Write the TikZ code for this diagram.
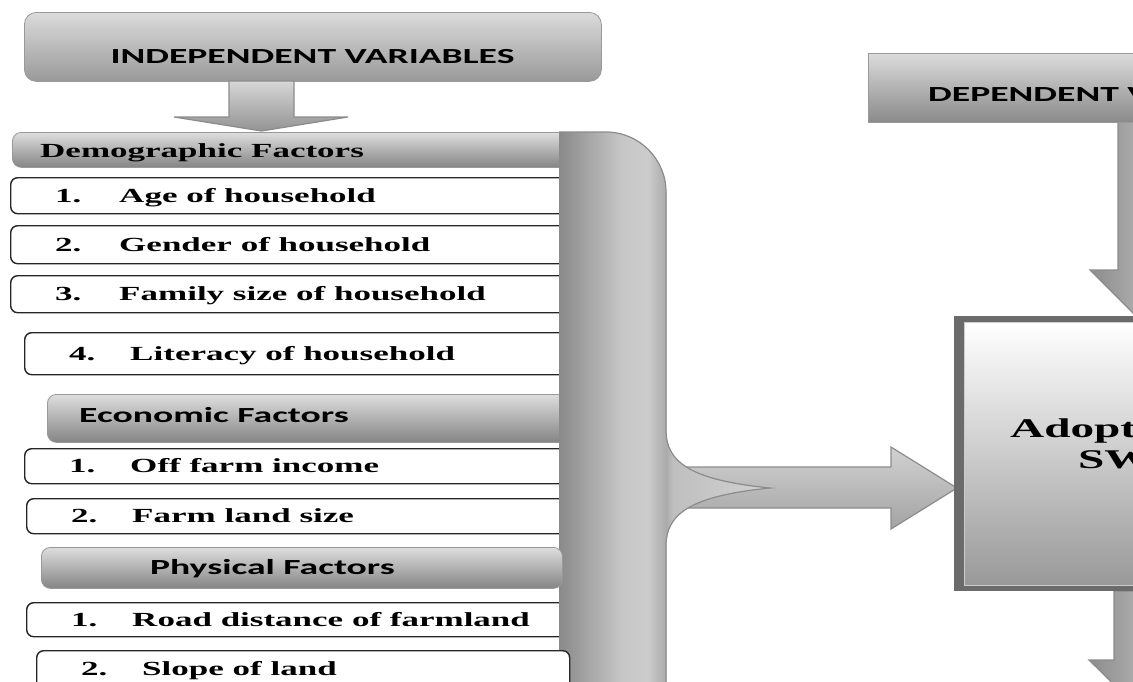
\documentclass[tikz,border=0pt]{standalone}
\usepackage{fontspec}
\usepackage{graphicx}
\setmainfont{Liberation Serif}
\newfontfamily\carlfont{Carlito}
\newcommand{\stx}[1]{\scalebox{1.75}[1]{#1}}
\newcommand{\numlab}[3]{\stx{\makebox[#1pt][l]{#2}#3}}
\pgfdeclarehorizontalshading{bandshade}{100bp}{color(0bp)=(black!46); color(25bp)=(black!46); color(40bp)=(black!22); color(46bp)=(black!20); color(50.4bp)=(black!33); color(52bp)=(black!25); color(75bp)=(black!18); color(100bp)=(black!18)}
\begin{document}
\begin{tikzpicture}[x=1pt,y=-1pt,
  sertxt/.style={inner sep=0pt,font=\fontsize{20}{23}\selectfont\bfseries},
  santxt/.style={inner sep=0pt,font=\carlfont\fontsize{21.5}{25}\selectfont\bfseries},
  bigtxt/.style={inner sep=0pt,font=\fontsize{27}{32}\selectfont\bfseries},
  lst/.style={draw=black!85,line width=1.4pt,rounded corners=7pt,fill=white,inner sep=0pt,anchor=north west},
  hdr/.style={draw=black!40,line width=0.8pt,rounded corners=9pt,top color=black!13,bottom color=black!48,inner sep=0pt,anchor=north west},
  blockarrow/.style={draw=black!45,line width=1.2pt,top color=black!16,bottom color=black!42},
  varrow/.style={draw=black!45,line width=1.2pt,left color=black!45,right color=black!14},
]
\useasboundingbox (0,0) rectangle (1133,681);
\clip (0,0) rectangle (1133,681);

% title
\node[hdr,rounded corners=12pt,minimum width=577pt,minimum height=69pt,top color=black!14,bottom color=black!40] (title) at (24,12) {};
\node[santxt,anchor=base] (titletxt) at (312.5,63) {\stx{INDEPENDENT VARIABLES}};
\path[blockarrow] (229,81) -- (294,81) -- (294,117) -- (348,117) -- (261.5,131) -- (174,117) -- (229,117) -- cycle;

% horizontal arrow to the dependent box
\path[blockarrow,top color=black!18,bottom color=black!36] (680,467) -- (891,467) -- (891,447) -- (957,488) -- (891,529) -- (891,508) -- (680,508) -- cycle;

% demographic factors
\node[hdr,minimum width=565pt,minimum height=35pt] (demo) at (12,132) {};
\node[sertxt,anchor=base west] (demotxt) at (40,157) {\stx{Demographic Factors}};
\node[lst,minimum width=580pt,minimum height=36pt] (d1) at (10,177) {};
\node[sertxt,anchor=base west] (d1t) at (55,202) {\numlab{36.6}{1.}{Age of household}};
\node[lst,minimum width=580pt,minimum height=38pt] (d2) at (10,225) {};
\node[sertxt,anchor=base west] (d2t) at (55,251) {\numlab{36.6}{2.}{Gender of household}};
\node[lst,minimum width=580pt,minimum height=37pt] (d3) at (10,275) {};
\node[sertxt,anchor=base west] (d3t) at (55,300) {\numlab{36.6}{3.}{Family size of household}};
\node[lst,minimum width=566pt,minimum height=42pt] (d4) at (24,332) {};
\node[sertxt,anchor=base west] (d4t) at (69,360) {\numlab{34.9}{4.}{Literacy of household}};

% economic factors
\node[hdr,minimum width=530pt,minimum height=48pt] (econ) at (47,394) {};
\node[santxt,anchor=base west] (econtxt) at (79,422) {\stx{Economic Factors}};
\node[lst,minimum width=566pt,minimum height=35pt] (e1) at (24,448) {};
\node[sertxt,anchor=base west] (e1t) at (69,472) {\numlab{34.9}{1.}{Off farm income}};
\node[lst,minimum width=564pt,minimum height=35pt] (e2) at (26,498) {};
\node[sertxt,anchor=base west] (e2t) at (71,522) {\numlab{34.9}{2.}{Farm land size}};

% physical factors
\node[lst,minimum width=564pt,minimum height=34pt] (p1) at (26,602) {};
\node[sertxt,anchor=base west] (p1t) at (71,626) {\numlab{34.9}{1.}{Road distance of farmland}};

% big band with brace
\fill[shading=bandshade] (559,700) -- (559,132) -- (606,132) .. controls (639,132) and (666,159) .. (666,192) -- (666,430) .. controls (666,462) and (690,480) .. (770,488) .. controls (690,496) and (666,514) .. (666,546) -- (666,700) -- cycle;
\draw[black!45,line width=1.2pt] (559,132) -- (606,132) .. controls (639,132) and (666,159) .. (666,192) -- (666,430) .. controls (666,462) and (690,480) .. (770,488) .. controls (690,496) and (666,514) .. (666,546) -- (666,700);

\node[hdr,minimum width=521pt,minimum height=41pt] (phys) at (41,547) {};
\node[santxt,anchor=base west] (phystxt) at (150,574) {\stx{Physical Factors}};
\node[lst,minimum width=533pt,minimum height=60pt] (p2) at (36,650) {};
\node[sertxt,anchor=base west] (p2t) at (81,675) {\numlab{34.9}{2.}{Slope of land}};

% dependent side
\path[varrow] (1118,122) -- (1182,122) -- (1182,270) -- (1210,270) -- (1150,330) -- (1090,270) -- (1118,270) -- cycle;
\path[varrow] (1114,591) -- (1182,591) -- (1182,660) -- (1210,660) -- (1150,720) -- (1089,660) -- (1114,660) -- cycle;
\node[hdr,rounded corners=0pt,minimum width=340pt,minimum height=69pt,top color=black!14,bottom color=black!46] (dep) at (868,53) {};
\node[santxt,anchor=base west] (deptxt) at (928,101) {\stx{DEPENDENT V}};

\node[anchor=north west,fill=black!58,minimum width=260pt,minimum height=275pt,inner sep=0pt] (adoptframe) at (954,316) {};
\node[anchor=north west,top color=white,bottom color=black!40,draw=black!20,line width=0.6pt,minimum width=250pt,minimum height=263pt,inner sep=0pt] (adopt) at (964,322) {};
\node[bigtxt,anchor=base west] (adopt1) at (1010,437) {\stx{Adopt}};
\node[bigtxt,anchor=base west] (adopt2) at (1078,468) {\stx{SW}};
\end{tikzpicture}
\end{document}
